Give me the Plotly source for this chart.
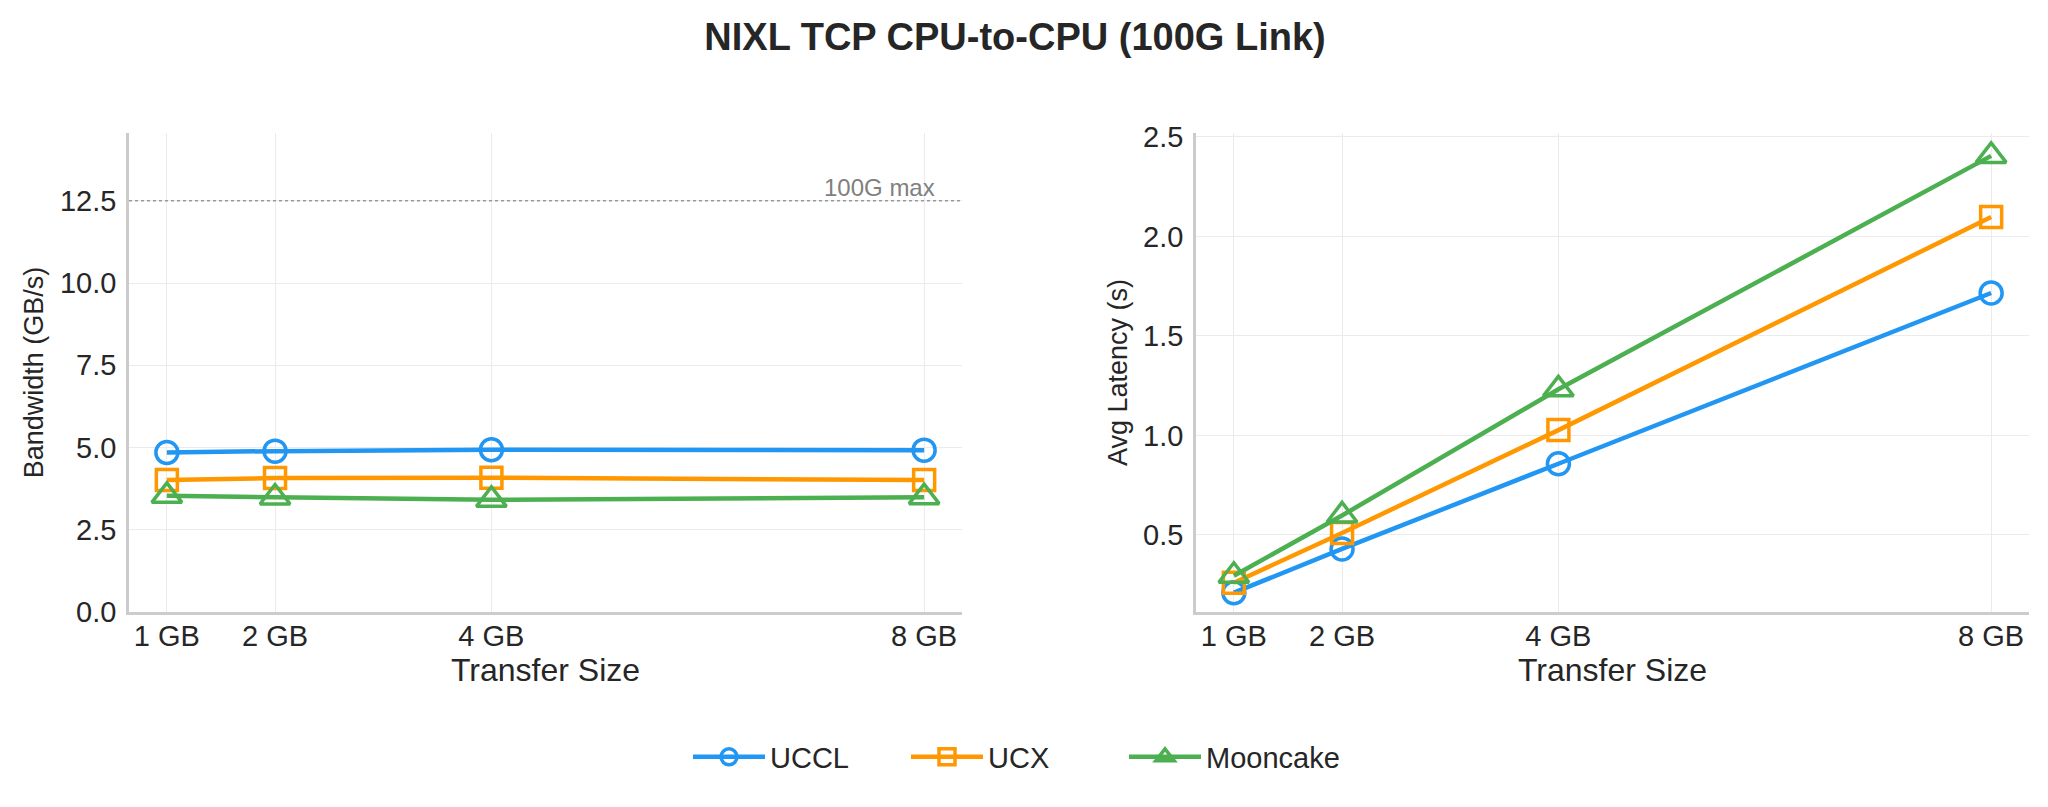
import plotly.graph_objects as go
from plotly.subplots import make_subplots

# transfer sizes (GB) and their tick labels
sizes = [1, 2, 4, 8]
size_labels = ["1 GB", "2 GB", "4 GB", "8 GB"]

# bandwidth in GB/s
bw_uccl = [4.85, 4.89, 4.93, 4.92]
bw_ucx = [4.01, 4.07, 4.08, 4.01]
bw_mooncake = [3.53, 3.48, 3.41, 3.49]

# average latency in seconds
lat_uccl = [0.21, 0.43, 0.858, 1.716]
lat_ucx = [0.26, 0.51, 1.027, 2.098]
lat_mooncake = [0.295, 0.598, 1.232, 2.405]

link_max = 12.5  # 100G link -> 12.5 GB/s

series = [
    ("UCCL", "#2196F3", "circle-open", 22, bw_uccl, lat_uccl),
    ("UCX", "#FF9800", "square-open", 21, bw_ucx, lat_ucx),
    ("Mooncake", "#4CAF50", "triangle-up-open", 26, bw_mooncake, lat_mooncake),
]

FONT = "Liberation Sans, Arial, sans-serif"
TXT = "#262626"

fig = make_subplots(rows=1, cols=2)

for name, color, symbol, msize, bw, lat in series:
    for col, ys in ((1, bw), (2, lat)):
        fig.add_trace(go.Scatter(
            x=sizes, y=ys, name=name, mode="lines+markers",
            line=dict(color=color, width=4.5),
            marker=dict(symbol=symbol, size=msize, color=color,
                        line=dict(color=color, width=3.5)),
            showlegend=(col == 1), legendgroup=name,
        ), row=1, col=col)

# 100G max reference line
fig.add_shape(type="line", xref="x domain", yref="y", x0=0, x1=1,
              y0=link_max, y1=link_max,
              line=dict(color="#999999", width=1.5, dash="dot"))
fig.add_annotation(xref="x domain", yref="y", x=0.97, y=link_max,
                   text="100G max", showarrow=False,
                   xanchor="right", yanchor="bottom", yshift=-2,
                   font=dict(size=24, color="#808080", family=FONT))

axis_common = dict(
    showline=True, linecolor="#cccccc", linewidth=2.5,
    showgrid=True, gridcolor="#ebebeb", gridwidth=1.2,
    zeroline=False, ticks="", automargin=False,
    tickfont=dict(size=29, color=TXT, family=FONT),
)

for c in (1, 2):
    fig.update_xaxes(axis_common, row=1, col=c,
                     tickvals=sizes, ticktext=size_labels,
                     range=[0.65, 8.35], ticklabelstandoff=-4,
                     title_text="Transfer Size", title_standoff=8,
                     title_font=dict(size=32, color=TXT, family=FONT))

ytitle_font = dict(size=27, color=TXT, family=FONT)
fig.update_yaxes(axis_common, row=1, col=1, range=[0, 14.56],
                 tickvals=[0, 2.5, 5, 7.5, 10, 12.5], tickformat=".1f",
                 ticklabelstandoff=4, title_font=ytitle_font,
                 title_text="Bandwidth (GB/s)", title_standoff=9)
fig.update_yaxes(axis_common, row=1, col=2, range=[0.113, 2.52],
                 tickvals=[0.5, 1.0, 1.5, 2.0, 2.5], tickformat=".1f",
                 ticklabelstandoff=4, title_font=ytitle_font,
                 title_text="Avg Latency (s)", title_standoff=8)

fig.update_layout(
    width=2048, height=807,
    margin=dict(l=0, r=0, t=0, b=0),
    paper_bgcolor="white", plot_bgcolor="white",
    font=dict(family=FONT, color=TXT),
    xaxis=dict(domain=[129 / 2048, 962 / 2048]),
    xaxis2=dict(domain=[1196 / 2048, 2029 / 2048]),
    yaxis=dict(domain=[1 - 612 / 807, 1 - 133 / 807]),
    yaxis2=dict(domain=[1 - 612 / 807, 1 - 133 / 807]),
    title=dict(text="<b>NIXL TCP CPU-to-CPU (100G Link)</b>",
               x=1015 / 2048, xanchor="center", y=1 - 37 / 807,
               yanchor="middle",
               font=dict(size=38, color=TXT, family=FONT)),
    legend=dict(orientation="h", x=688 / 2048, xanchor="left",
                y=1 - 757 / 807, yanchor="middle",
                font=dict(size=29, color=TXT, family=FONT),
                itemwidth=72, entrywidth=131, entrywidthmode="pixels",
                tracegroupgap=0),
)

# drop the default page margin so the figure sits at the window origin
fig.write_html("out.html", config={"displayModeBar": False},
               post_script="document.body.style.margin = '0';")
